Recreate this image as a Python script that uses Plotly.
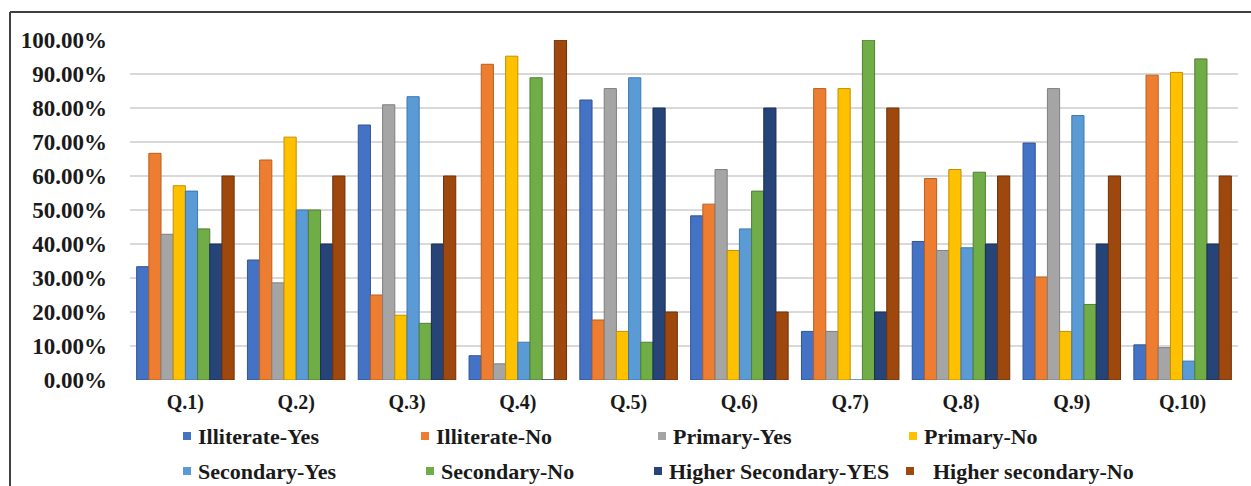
import plotly.graph_objects as go

categories = ["Q.1)", "Q.2)", "Q.3)", "Q.4)", "Q.5)", "Q.6)", "Q.7)", "Q.8)", "Q.9)", "Q.10)"]

illiterate_yes = [33.33, 35.29, 75.00, 7.14, 82.35, 48.28, 14.29, 40.74, 69.70, 10.34]
illiterate_no = [66.67, 64.71, 25.00, 92.86, 17.65, 51.72, 85.71, 59.26, 30.30, 89.66]
primary_yes = [42.86, 28.57, 80.95, 4.76, 85.71, 61.90, 14.29, 38.10, 85.71, 9.52]
primary_no = [57.14, 71.43, 19.05, 95.24, 14.29, 38.10, 85.71, 61.90, 14.29, 90.48]
secondary_yes = [55.56, 50.00, 83.33, 11.11, 88.89, 44.44, 0.00, 38.89, 77.78, 5.56]
secondary_no = [44.44, 50.00, 16.67, 88.89, 11.11, 55.56, 100.00, 61.11, 22.22, 94.44]
higher_sec_yes = [40.00, 40.00, 40.00, 0.00, 80.00, 80.00, 20.00, 40.00, 40.00, 40.00]
higher_sec_no = [60.00, 60.00, 60.00, 100.00, 20.00, 20.00, 80.00, 60.00, 60.00, 60.00]

series_names = ["Illiterate-Yes", "Illiterate-No", "Primary-Yes", "Primary-No",
                "Secondary-Yes", "Secondary-No", "Higher Secondary-YES", "Higher secondary-No"]
series_values = [illiterate_yes, illiterate_no, primary_yes, primary_no,
                 secondary_yes, secondary_no, higher_sec_yes, higher_sec_no]
colors = ["#4472C4", "#ED7D31", "#A5A5A5", "#FFC000", "#5B9BD5", "#70AD47", "#264478", "#9E480E"]
edge_colors = ["#2F5597", "#B85F22", "#7F7F7F", "#BF9000", "#3C78B0", "#507E32", "#1A2F54", "#6E320A"]

y_ticks = [0, 10, 20, 30, 40, 50, 60, 70, 80, 90, 100]

fig = go.Figure()
for name, vals, col, ec in zip(series_names, series_values, colors, edge_colors):
    fig.add_trace(go.Bar(x=categories, y=vals, name=name, marker_color=col,
                         marker_line=dict(color=ec, width=1), showlegend=False))

W, H = 1251, 486
ml, mr, mt, mb = 130, 13, 40, 106

fig.update_layout(
    width=W, height=H,
    margin=dict(l=ml, r=mr, t=mt, b=mb),
    paper_bgcolor="white", plot_bgcolor="white",
    barmode="group", bargap=0.12, bargroupgap=0,
    font=dict(family="Liberation Serif", color="#1a1a1a"),
)
fig.update_yaxes(range=[0, 100], tickvals=y_ticks,
                 ticktext=[f"{v:.2f}%" for v in y_ticks],
                 showgrid=True, gridcolor="#D9D9D9", gridwidth=2,
                 zeroline=False, showline=False,
                 tickfont=dict(family="Liberation Serif", size=23, color="#1a1a1a", weight="bold"),
                 ticklabelstandoff=22)
fig.update_xaxes(showgrid=False, showline=False, ticks="",
                 tickfont=dict(family="Liberation Serif", size=20, color="#1a1a1a", weight="bold"),
                 ticklabelstandoff=8)

# frame lines (top and left)
fig.add_shape(type="line", xref="paper", yref="paper",
              x0=(10 - ml) / (W - ml - mr), x1=1.2, y0=(H - 12 - mb) / (H - mt - mb), y1=(H - 12 - mb) / (H - mt - mb),
              line=dict(color="#404040", width=2))
fig.add_shape(type="line", xref="paper", yref="paper",
              x0=(10 - ml) / (W - ml - mr), x1=(10 - ml) / (W - ml - mr),
              y0=(H - 12 - mb) / (H - mt - mb), y1=-0.5,
              line=dict(color="#404040", width=2))

# legend drawn manually (two rows)
legend_pos = [(187, 436), (425, 436), (662, 436), (913, 436),
              (187, 471), (430, 471), (658, 471), (910, 471)]
legend_gap = [9, 9, 9, 9, 9, 9, 9, 21]
pw = W - ml - mr
ph = H - mt - mb
for (px, py), gap, name, col in zip(legend_pos, legend_gap, series_names, colors):
    fx0 = (px - 4 - ml) / pw
    fx1 = (px + 4 - ml) / pw
    fy0 = (H - mb - (py + 4)) / ph
    fy1 = (H - mb - (py - 4)) / ph
    fig.add_shape(type="rect", xref="paper", yref="paper", x0=fx0, x1=fx1, y0=fy0, y1=fy1,
                  fillcolor=col, line=dict(width=0))
    fig.add_annotation(xref="paper", yref="paper", x=(px + gap - ml) / pw, y=(H - mb - py) / ph,
                       text=name, showarrow=False, xanchor="left", yanchor="middle",
                       font=dict(family="Liberation Serif", size=22, color="#1a1a1a", weight="bold"))

fig.write_html("out.html")
